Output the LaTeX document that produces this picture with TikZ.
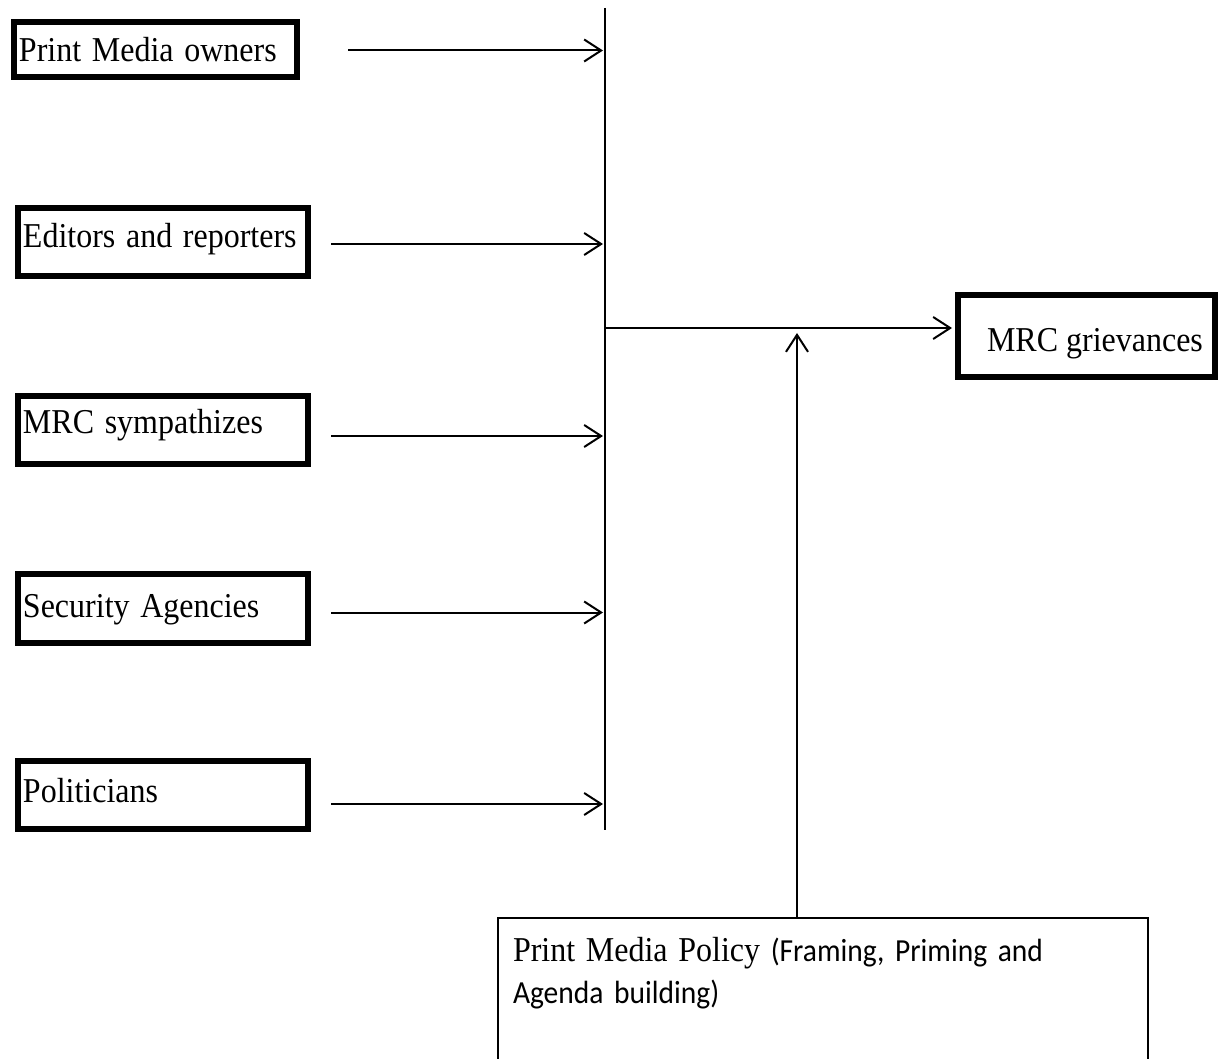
\documentclass[tikz,border=0pt]{standalone}
\usepackage{fontspec}
\usepackage{graphicx}
\setmainfont{Liberation Serif}
\newfontfamily\calibri{Carlito}
\usetikzlibrary{arrows.meta}
\newcommand{\tallt}[1]{\scalebox{1}[1.09]{#1}}
\begin{document}
\begin{tikzpicture}[x=1pt,y=-1pt,
  thickbox/.style={draw=black, line width=6pt, anchor=north west, align=left,
    inner xsep=5pt, inner ysep=0pt, text height=32pt, text depth=7pt,
    font=\fontsize{32}{38}\selectfont},
  thin/.style={line width=2pt},
  arr/.style={line width=2pt, -{Straight Barb[length=17pt,width=22pt,line width=2pt]}}
]
\useasboundingbox (0,0) rectangle (1219,1059);
\clip (0,0) rectangle (1219,1059);
\fill[white] (0,0) rectangle (1219,1059);

% left boxes
\node[thickbox, text width=273pt, minimum height=55pt] (b1) at (11,19) {\tallt{Print Media owners}};
\node[thickbox, text width=280pt, minimum height=68pt, text height=30pt, text depth=18pt] (b2) at (15,205) {\tallt{Editors and reporters}};
\node[thickbox, text width=280pt, minimum height=68pt, text height=30pt, text depth=24pt] (b3) at (15,393) {\tallt{MRC sympathizes}};
\node[thickbox, text width=280pt, minimum height=69pt, text height=30pt, text depth=12pt] (b4) at (15,571) {\tallt{Security Agencies}};
\node[thickbox, text width=280pt, minimum height=68pt, text height=30pt, text depth=16pt] (b5) at (15,758) {\tallt{Politicians}};

% right box
\node[thickbox, inner xsep=8pt, minimum height=82pt, text depth=0pt] (mrc) at (955,292)
  {\makebox[241pt][l]{\hspace*{21pt}\tallt{MRC grievances}}};

% bottom box
\node[draw=black, line width=2pt, anchor=north west, align=left, text width=620pt,
  inner xsep=15pt, inner ysep=13pt, text height=30pt, text depth=130pt,
  font=\fontsize{32}{42}\selectfont] (policy) at (497,917)
  {\tallt{Print Media Policy {\calibri\fontsize{29.5}{42}\selectfont (Framing, Priming and}}\\
   \tallt{\calibri\fontsize{29.5}{42}\selectfont Agenda building)}};

% vertical collector line
\coordinate (vtop) at (605,8);
\coordinate (vbot) at (605,830);
\draw[thin] (vtop) -- (vbot);

% arrows from boxes to the line
\draw[arr] ([xshift=48pt,yshift=-1pt]b1.east) -- ([xshift=-2pt,yshift=-1pt]b1.east -| vtop);
\draw[arr] ([xshift=20pt,yshift=-2pt]b2.east) -- ([xshift=-2pt,yshift=-2pt]b2.east -| vtop);
\draw[arr] ([xshift=20pt,yshift=-6pt]b3.east) -- ([xshift=-2pt,yshift=-6pt]b3.east -| vtop);
\draw[arr] ([xshift=20pt,yshift=-4pt]b4.east) -- ([xshift=-2pt,yshift=-4pt]b4.east -| vtop);
\draw[arr] ([xshift=20pt,yshift=-9pt]b5.east) -- ([xshift=-2pt,yshift=-9pt]b5.east -| vtop);

% junction to MRC grievances
\coordinate (junc) at (605,328);
\draw[arr] (junc) -- ([xshift=-3pt]junc -| mrc.west);

% policy arrow
\coordinate (pbase) at (797,917);
\coordinate (ptip) at (797,333);
\draw[arr] (pbase) -- (ptip);
\end{tikzpicture}
\end{document}
